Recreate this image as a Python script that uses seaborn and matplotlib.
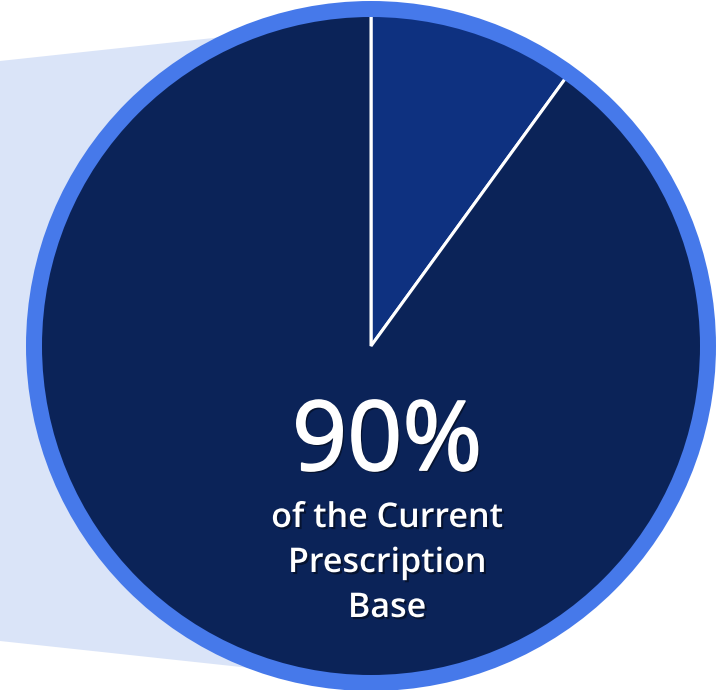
import matplotlib
matplotlib.use("Agg")
import matplotlib.pyplot as plt
import matplotlib.patches as mpatches
import matplotlib.patheffects as pe
import seaborn as sns

# Data
segments = ["Other", "Current Prescription Base"]
shares = [10, 90]
headline = "90%"
caption = ["of the Current", "Prescription", "Base"]

# Colours
slice_colors = ["#0e3180", "#0b2358"]
ring_color = "#4679ea"
funnel_color = "#dae4f8"

sns.set_theme(style="white")
plt.rcParams["font.family"] = ["Open Sans", "DejaVu Sans"]

W, H = 720, 690
fig = plt.figure(figsize=(W / 100, H / 100), dpi=100)
ax = fig.add_axes([0, 0, 1, 1])

cx, cy = 371, H - 346
r = 333

# light blue funnel behind the pie
funnel = mpatches.Polygon(
    [(0, H - 61), (cx, H - 21), (cx, H - 681), (0, H - 641)],
    closed=True, facecolor=funnel_color, edgecolor="none", zorder=0
)
ax.add_patch(funnel)

ax.pie(
    shares,
    colors=slice_colors,
    startangle=90,
    counterclock=False,
    radius=r,
    center=(cx, cy),
    wedgeprops=dict(edgecolor="white", linewidth=2.2, zorder=2),
)

# outer ring (covers 329..345 px from centre)
ring = mpatches.Circle((cx, cy), 337, fill=False, edgecolor=ring_color,
                       linewidth=16 * 0.72, zorder=3)
ax.add_patch(ring)

shadow = [pe.SimplePatchShadow(offset=(1.5, -1.5), shadow_rgbFace="black", alpha=0.45),
          pe.Normal()]
# regular weight slightly thickened for the big number
big_shadow = [pe.SimplePatchShadow(offset=(1.5, -1.5), shadow_rgbFace="black", alpha=0.45),
              pe.Stroke(linewidth=1.3, foreground="white"), pe.Normal()]

ax.text(387, H - 470, headline, color="white", fontsize=69.5,
        ha="center", va="baseline", zorder=5, path_effects=big_shadow)
for i, line in enumerate(caption):
    ax.text(387, H - (527 + 45 * i), line, color="white", fontsize=24.5,
            fontweight="semibold", ha="center", va="baseline", zorder=5,
            path_effects=shadow)

ax.set_xlim(0, W)
ax.set_ylim(0, H)
ax.set_aspect("auto")
ax.axis("off")

fig.savefig("out.png", dpi=100, facecolor="white")
